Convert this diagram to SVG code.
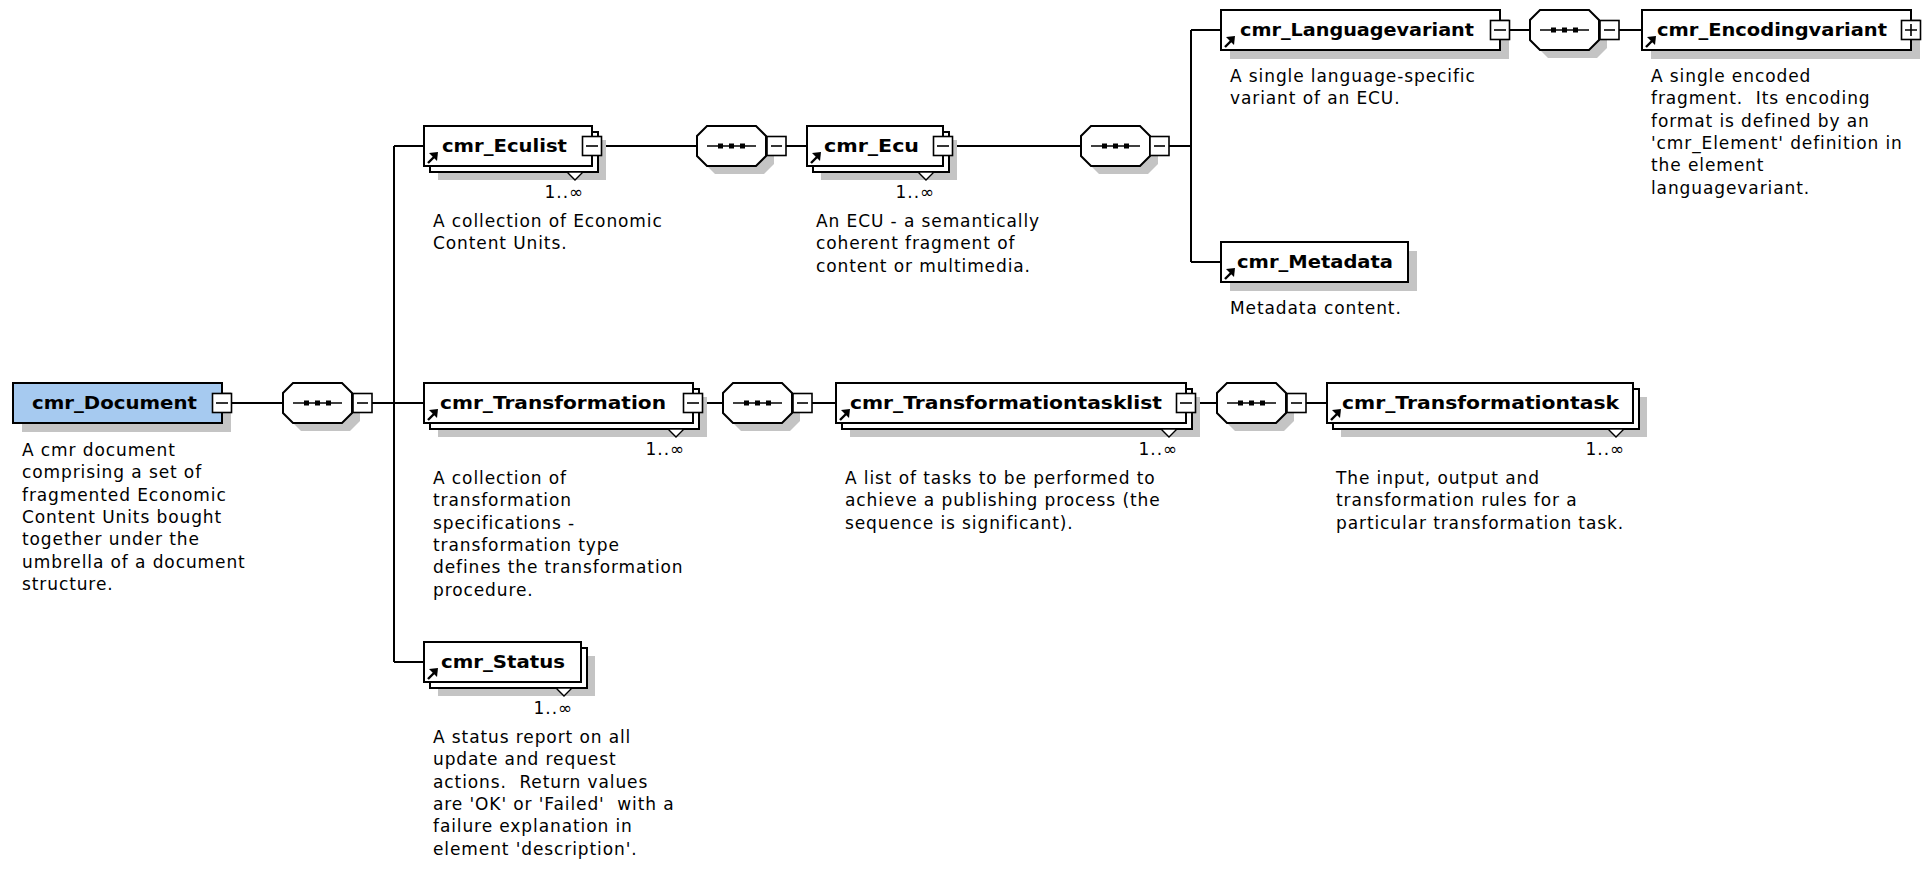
<svg xmlns="http://www.w3.org/2000/svg" width="1930" height="877" viewBox="0 0 1930 877">
<style>
.bg{fill:#fff}
.box{fill:#fff;stroke:#000;stroke-width:2}
.doc{fill:#a6caf0;stroke:#000;stroke-width:2}
.sh{fill:#c4c4c4}
.ln{stroke:#000;stroke-width:2;fill:none}
.oct{fill:#fff;stroke:#000;stroke-width:2}
.in{stroke:#000;stroke-width:1.6}
.dot{fill:#000}
.tog{fill:#fff;stroke:#000;stroke-width:1.6}
.tri{fill:#fff;stroke:#000;stroke-width:1.4}
.ar{stroke:#000;stroke-width:2.4;fill:none}
.arh{fill:#000}
.t{font-family:"DejaVu Sans",sans-serif;font-weight:bold;font-size:17px;fill:#000}
.d{font-family:"DejaVu Sans",sans-serif;font-size:17px;letter-spacing:0.9px;fill:#000;white-space:pre}
.m{font-family:"DejaVu Sans",sans-serif;font-size:17px;letter-spacing:0.9px;fill:#000;text-anchor:end}
</style>
<rect class="bg" x="0" y="0" width="1930" height="877"/>

<g id="connectors">
<path class="ln" d="M231.5 403H283 M372 403H394 M394 146V662 M394 146H424 M394 403H424 M394 662H424"/>
<path class="ln" d="M601.5 146H697 M786 146H807 M952.5 146H1081 M1169 146H1191 M1191 30V262 M1191 30H1221 M1191 262H1221"/>
<path class="ln" d="M1509.5 30H1530 M1619 30H1642"/>
<path class="ln" d="M702.5 403H723 M812 403H836 M1195.5 403H1217 M1306 403H1327"/>
</g>

<g id="cmr_Document">
<rect class="sh" x="22" y="392" width="209" height="40"/>
<rect class="doc" x="13" y="383" width="209" height="40"/>
<text class="t" x="32" y="409" textLength="165" lengthAdjust="spacingAndGlyphs">cmr_Document</text>
<rect class="tog" x="212.5" y="393.5" width="19" height="19"/>
<path class="in" d="M216 403H228"/>
<text class="d" x="22" y="456"><tspan x="22">A cmr document</tspan><tspan x="22" dy="22.3">comprising a set of</tspan><tspan x="22" dy="22.3">fragmented Economic</tspan><tspan x="22" dy="22.3">Content Units bought</tspan><tspan x="22" dy="22.3">together under the</tspan><tspan x="22" dy="22.3">umbrella of a document</tspan><tspan x="22" dy="22.3">structure.</tspan></text>
</g>

<g id="seq_document">
<polygon class="sh" points="301,391 350,391 360,401 360,421 350,431 301,431 291,421 291,401"/>
<polygon class="oct" points="293,383 342,383 352,393 352,413 342,423 293,423 283,413 283,393"/>
<path class="in" d="M293 403H342"/>
<rect class="dot" x="304" y="400.5" width="5" height="5"/><rect class="dot" x="315" y="400.5" width="5" height="5"/><rect class="dot" x="326" y="400.5" width="5" height="5"/>
<rect class="tog" x="353" y="393.5" width="19" height="19"/>
<path class="in" d="M357 403H368"/>
</g>

<g id="cmr_Eculist">
<rect class="sh" x="438" y="140" width="168" height="40"/>
<rect class="box" x="430" y="132" width="168" height="40"/>
<rect class="box" x="424" y="126" width="168" height="40"/>
<polygon class="tri" points="567,172 575,180 583,172"/>
<text class="t" x="442" y="152" textLength="125" lengthAdjust="spacingAndGlyphs">cmr_Eculist</text>
<path class="ar" d="M428 163L434 157"/><polygon class="arh" points="438,152 429,153 437,161"/>
<rect class="tog" x="582.5" y="136.5" width="19" height="19"/>
<path class="in" d="M586 146H598"/>
<text class="m" x="584" y="198">1..∞</text>
<text class="d" x="433" y="227"><tspan x="433">A collection of Economic</tspan><tspan x="433" dy="22.3">Content Units.</tspan></text>
</g>

<g id="seq_eculist">
<polygon class="sh" points="715,134 764,134 774,144 774,164 764,174 715,174 705,164 705,144"/>
<polygon class="oct" points="707,126 756,126 766,136 766,156 756,166 707,166 697,156 697,136"/>
<path class="in" d="M707 146H756"/>
<rect class="dot" x="718" y="143.5" width="5" height="5"/><rect class="dot" x="729" y="143.5" width="5" height="5"/><rect class="dot" x="740" y="143.5" width="5" height="5"/>
<rect class="tog" x="767" y="136.5" width="19" height="19"/>
<path class="in" d="M771 146H782"/>
</g>

<g id="cmr_Ecu">
<rect class="sh" x="821" y="140" width="136" height="40"/>
<rect class="box" x="813" y="132" width="136" height="40"/>
<rect class="box" x="807" y="126" width="136" height="40"/>
<polygon class="tri" points="918,172 926,180 934,172"/>
<text class="t" x="824" y="152" textLength="95" lengthAdjust="spacingAndGlyphs">cmr_Ecu</text>
<path class="ar" d="M811 163L817 157"/><polygon class="arh" points="821,152 812,153 820,161"/>
<rect class="tog" x="933.5" y="136.5" width="19" height="19"/>
<path class="in" d="M937 146H949"/>
<text class="m" x="935" y="198">1..∞</text>
<text class="d" x="816" y="227"><tspan x="816">An ECU - a semantically</tspan><tspan x="816" dy="22.3">coherent fragment of</tspan><tspan x="816" dy="22.3">content or multimedia.</tspan></text>
</g>

<g id="seq_ecu">
<polygon class="sh" points="1099,134 1148,134 1158,144 1158,164 1148,174 1099,174 1089,164 1089,144"/>
<polygon class="oct" points="1091,126 1140,126 1150,136 1150,156 1140,166 1091,166 1081,156 1081,136"/>
<path class="in" d="M1091 146H1140"/>
<rect class="dot" x="1102" y="143.5" width="5" height="5"/><rect class="dot" x="1113" y="143.5" width="5" height="5"/><rect class="dot" x="1124" y="143.5" width="5" height="5"/>
<rect class="tog" x="1150" y="136.5" width="19" height="19"/>
<path class="in" d="M1154 146H1165"/>
</g>

<g id="cmr_Languagevariant">
<rect class="sh" x="1230" y="19" width="279" height="40"/>
<rect class="box" x="1221" y="10" width="279" height="40"/>
<text class="t" x="1240" y="36" textLength="234" lengthAdjust="spacingAndGlyphs">cmr_Languagevariant</text>
<path class="ar" d="M1225 47L1231 41"/><polygon class="arh" points="1235,36 1226,37 1234,45"/>
<rect class="tog" x="1490.5" y="20.5" width="19" height="19"/>
<path class="in" d="M1494 30H1506"/>
<text class="d" x="1230" y="82"><tspan x="1230">A single language-specific</tspan><tspan x="1230" dy="22.3">variant of an ECU.</tspan></text>
</g>

<g id="seq_languagevariant">
<polygon class="sh" points="1548,18 1597,18 1607,28 1607,48 1597,58 1548,58 1538,48 1538,28"/>
<polygon class="oct" points="1540,10 1589,10 1599,20 1599,40 1589,50 1540,50 1530,40 1530,20"/>
<path class="in" d="M1540 30H1589"/>
<rect class="dot" x="1551" y="27.5" width="5" height="5"/><rect class="dot" x="1562" y="27.5" width="5" height="5"/><rect class="dot" x="1573" y="27.5" width="5" height="5"/>
<rect class="tog" x="1600" y="20.5" width="19" height="19"/>
<path class="in" d="M1604 30H1615"/>
</g>

<g id="cmr_Encodingvariant">
<rect class="sh" x="1651" y="19" width="269" height="40"/>
<rect class="box" x="1642" y="10" width="269" height="40"/>
<text class="t" x="1657" y="36" textLength="230" lengthAdjust="spacingAndGlyphs">cmr_Encodingvariant</text>
<path class="ar" d="M1646 47L1652 41"/><polygon class="arh" points="1656,36 1647,37 1655,45"/>
<rect class="tog" x="1901.5" y="20.5" width="19" height="19"/>
<path class="in" d="M1905 30H1917 M1911 24V36"/>
<text class="d" x="1651" y="82"><tspan x="1651">A single encoded</tspan><tspan x="1651" dy="22.3">fragment.  Its encoding</tspan><tspan x="1651" dy="22.3">format is defined by an</tspan><tspan x="1651" dy="22.3">'cmr_Element' definition in</tspan><tspan x="1651" dy="22.3">the element</tspan><tspan x="1651" dy="22.3">languagevariant.</tspan></text>
</g>

<g id="cmr_Metadata">
<rect class="sh" x="1230" y="251" width="187" height="40"/>
<rect class="box" x="1221" y="242" width="187" height="40"/>
<text class="t" x="1237" y="268" textLength="156" lengthAdjust="spacingAndGlyphs">cmr_Metadata</text>
<path class="ar" d="M1225 279L1231 273"/><polygon class="arh" points="1235,268 1226,269 1234,277"/>
<text class="d" x="1230" y="314">Metadata content.</text>
</g>

<g id="cmr_Transformation">
<rect class="sh" x="438" y="397" width="269" height="40"/>
<rect class="box" x="430" y="389" width="269" height="40"/>
<rect class="box" x="424" y="383" width="269" height="40"/>
<polygon class="tri" points="668,429 676,437 684,429"/>
<text class="t" x="440" y="409" textLength="226" lengthAdjust="spacingAndGlyphs">cmr_Transformation</text>
<path class="ar" d="M428 420L434 414"/><polygon class="arh" points="438,409 429,410 437,418"/>
<rect class="tog" x="683.5" y="393.5" width="19" height="19"/>
<path class="in" d="M687 403H699"/>
<text class="m" x="685" y="455">1..∞</text>
<text class="d" x="433" y="484"><tspan x="433">A collection of</tspan><tspan x="433" dy="22.3">transformation</tspan><tspan x="433" dy="22.3">specifications -</tspan><tspan x="433" dy="22.3">transformation type</tspan><tspan x="433" dy="22.3">defines the transformation</tspan><tspan x="433" dy="22.3">procedure.</tspan></text>
</g>

<g id="seq_transformation">
<polygon class="sh" points="741,391 790,391 800,401 800,421 790,431 741,431 731,421 731,401"/>
<polygon class="oct" points="733,383 782,383 792,393 792,413 782,423 733,423 723,413 723,393"/>
<path class="in" d="M733 403H782"/>
<rect class="dot" x="744" y="400.5" width="5" height="5"/><rect class="dot" x="755" y="400.5" width="5" height="5"/><rect class="dot" x="766" y="400.5" width="5" height="5"/>
<rect class="tog" x="793" y="393.5" width="19" height="19"/>
<path class="in" d="M797 403H808"/>
</g>

<g id="cmr_Transformationtasklist">
<rect class="sh" x="850" y="397" width="350" height="40"/>
<rect class="box" x="842" y="389" width="350" height="40"/>
<rect class="box" x="836" y="383" width="350" height="40"/>
<polygon class="tri" points="1161,429 1169,437 1177,429"/>
<text class="t" x="850" y="409" textLength="312" lengthAdjust="spacingAndGlyphs">cmr_Transformationtasklist</text>
<path class="ar" d="M840 420L846 414"/><polygon class="arh" points="850,409 841,410 849,418"/>
<rect class="tog" x="1176.5" y="393.5" width="19" height="19"/>
<path class="in" d="M1180 403H1192"/>
<text class="m" x="1178" y="455">1..∞</text>
<text class="d" x="845" y="484"><tspan x="845">A list of tasks to be performed to</tspan><tspan x="845" dy="22.3">achieve a publishing process (the</tspan><tspan x="845" dy="22.3">sequence is significant).</tspan></text>
</g>

<g id="seq_transformationtasklist">
<polygon class="sh" points="1235,391 1284,391 1294,401 1294,421 1284,431 1235,431 1225,421 1225,401"/>
<polygon class="oct" points="1227,383 1276,383 1286,393 1286,413 1276,423 1227,423 1217,413 1217,393"/>
<path class="in" d="M1227 403H1276"/>
<rect class="dot" x="1238" y="400.5" width="5" height="5"/><rect class="dot" x="1249" y="400.5" width="5" height="5"/><rect class="dot" x="1260" y="400.5" width="5" height="5"/>
<rect class="tog" x="1287" y="393.5" width="19" height="19"/>
<path class="in" d="M1291 403H1302"/>
</g>

<g id="cmr_Transformationtask">
<rect class="sh" x="1341" y="397" width="306" height="40"/>
<rect class="box" x="1333" y="389" width="306" height="40"/>
<rect class="box" x="1327" y="383" width="306" height="40"/>
<polygon class="tri" points="1608,429 1616,437 1624,429"/>
<text class="t" x="1342" y="409" textLength="277" lengthAdjust="spacingAndGlyphs">cmr_Transformationtask</text>
<path class="ar" d="M1331 420L1337 414"/><polygon class="arh" points="1341,409 1332,410 1340,418"/>
<text class="m" x="1625" y="455">1..∞</text>
<text class="d" x="1336" y="484"><tspan x="1336">The input, output and</tspan><tspan x="1336" dy="22.3">transformation rules for a</tspan><tspan x="1336" dy="22.3">particular transformation task.</tspan></text>
</g>

<g id="cmr_Status">
<rect class="sh" x="438" y="656" width="157" height="40"/>
<rect class="box" x="430" y="648" width="157" height="40"/>
<rect class="box" x="424" y="642" width="157" height="40"/>
<polygon class="tri" points="556,688 564,696 572,688"/>
<text class="t" x="441" y="668" textLength="124" lengthAdjust="spacingAndGlyphs">cmr_Status</text>
<path class="ar" d="M428 679L434 673"/><polygon class="arh" points="438,668 429,669 437,677"/>
<text class="m" x="573" y="714">1..∞</text>
<text class="d" x="433" y="743"><tspan x="433">A status report on all</tspan><tspan x="433" dy="22.3">update and request</tspan><tspan x="433" dy="22.3">actions.  Return values</tspan><tspan x="433" dy="22.3">are 'OK' or 'Failed'  with a</tspan><tspan x="433" dy="22.3">failure explanation in</tspan><tspan x="433" dy="22.3">element 'description'.</tspan></text>
</g>
</svg>
